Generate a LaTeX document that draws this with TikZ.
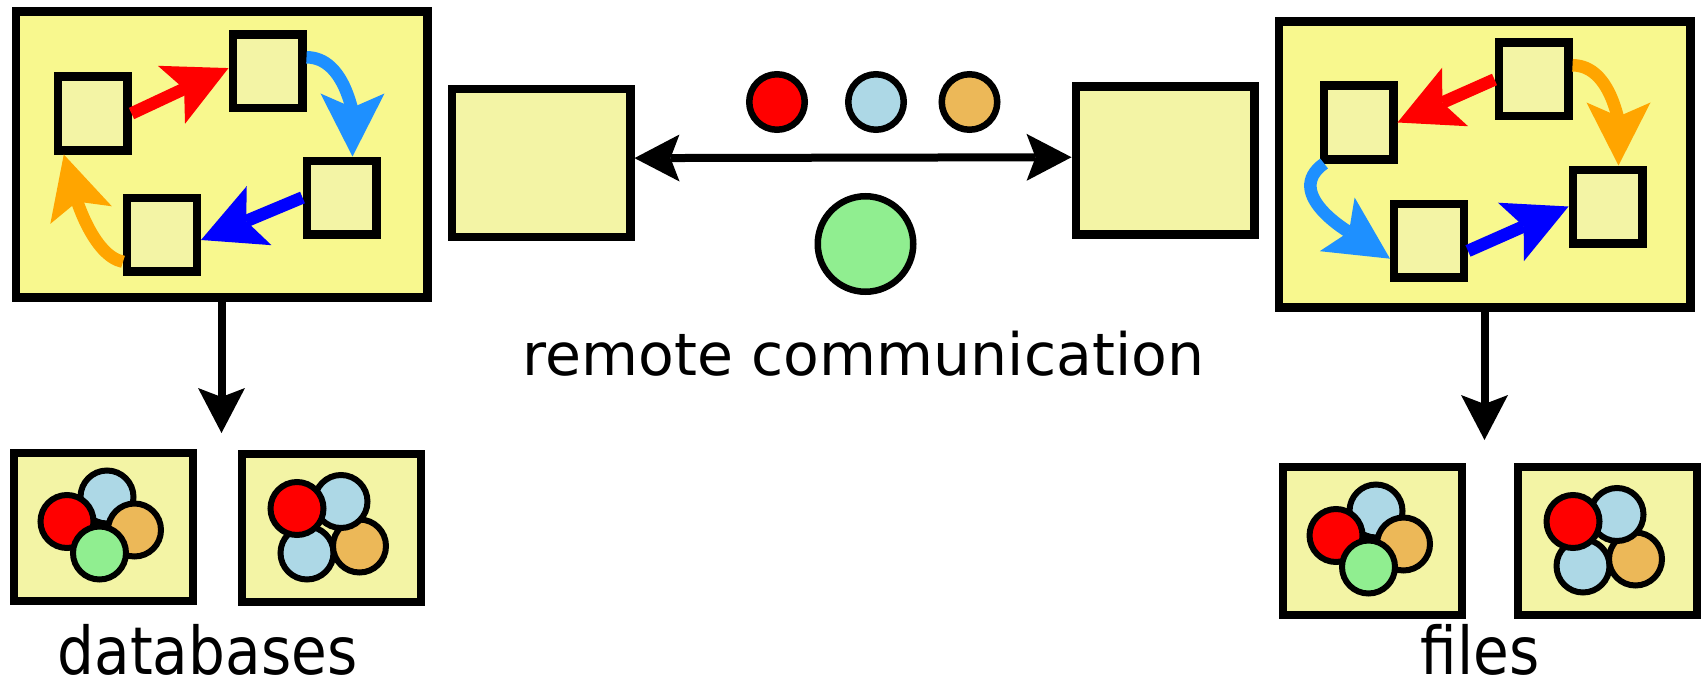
\documentclass[tikz,border=0pt]{standalone}
\usepackage{fontspec}
\setmainfont{DejaVu Sans}
\usetikzlibrary{positioning,arrows.meta,calc}

\definecolor{hostfill}{RGB}{248,248,142}
\definecolor{boxfill}{RGB}{243,244,165}
\definecolor{dotblue}{RGB}{173,216,230}
\definecolor{dotorange}{RGB}{236,184,88}
\definecolor{dotgreen}{RGB}{144,238,144}
\definecolor{arrsky}{RGB}{30,144,255}
\definecolor{arrorange}{RGB}{255,165,0}

% stored objects, drawn around the centre of a store box
\newcommand{\mixfour}[1]{%
  \filldraw[blob,fill=dotblue]   ($(#1)+(3.5,-30)$)    circle[radius=26.5];
  \filldraw[blob,fill=red]       ($(#1)+(-36.5,-5.5)$) circle[radius=26.5];
  \filldraw[blob,fill=dotorange] ($(#1)+(31,3)$)       circle[radius=26.5];
  \filldraw[blob,fill=dotgreen]  ($(#1)+(-4,26)$)      circle[radius=26.5];}
\newcommand{\mixtwo}[1]{%
  \filldraw[blob,fill=dotblue]   ($(#1)+(-24.5,25)$)    circle[radius=26.5];
  \filldraw[blob,fill=dotorange] ($(#1)+(28,18)$)       circle[radius=26.5];
  \filldraw[blob,fill=dotblue]   ($(#1)+(9.5,-26.5)$)   circle[radius=26.5];
  \filldraw[blob,fill=red]       ($(#1)+(-34.5,-19.5)$) circle[radius=26.5];}

\begin{document}
\begin{tikzpicture}[x=1pt,y=-1pt,
  host/.style={draw,line width=8.3pt,fill=hostfill,minimum width=411.7pt,minimum height=285.7pt,inner sep=0pt},
  obj/.style={draw,line width=8.3pt,fill=boxfill,minimum width=69.7pt,minimum height=73.7pt,inner sep=0pt},
  panel/.style={draw,line width=8.3pt,fill=boxfill,minimum width=178.7pt,minimum height=147.7pt,inner sep=0pt},
  msg/.style={circle,draw,line width=6.5pt,minimum size=55.5pt,inner sep=0pt},
  blob/.style={line width=6pt},
  flow/.style={line width=12.5pt,-{Stealth[length=63pt,width=64pt,inset=14pt,line width=0pt]}},
  link/.style={line width=8pt},
  lbl/.style={anchor=base,inner sep=0pt,font=\fontsize{66}{80}\selectfont},
  >={Stealth[length=45pt,width=47pt,inset=9pt,line width=0pt]}]
\useasboundingbox (0,0) rectangle (1704,690);

% left program: four objects calling round
\node[host] (progL) at (221.5,154.5) {};
\node[obj] (a1) at (92.5,113.5) {};
\node[obj] (a2) at (267.5,71.5) {};
\node[obj] (a3) at (341.5,197.5) {};
\node[obj] (a4) at (162,234.5) {};
\draw[flow,red] (a1.east) -- (a2.175);
\draw[flow,arrsky] (a2.20) .. controls +(40,0) and +(0,-36) .. (a3.75);
\draw[flow,blue] (a3.west) -- (a4.-8);
\draw[flow,arrorange] (a4.215) .. controls +(-30,-6) and +(12,42) .. (a1.235);

% right program
\node[host] (progR) at (1484.5,164.5) {};
\node[obj] (b1) at (1533.5,79.5) {};
\node[obj] (b2) at (1358.5,122.5) {};
\node[obj] (b3) at (1607.5,206.5) {};
\node[obj] (b4) at (1429,240.5) {};
\draw[flow,red] (b1.west) -- (b2.east);
\draw[flow,arrorange] (b1.20) .. controls +(40,0) and +(0,-36) .. (b3.75);
\draw[flow,arrsky] (b2.230) .. controls +(-42,30) and +(-40,-26) .. (b4.205);
\draw[flow,blue] (b4.-15) -- (b3.west);

% the two ends of the remote link and what travels over it
\node[panel] (stubL) at (541,163) {};
\node[panel] (stubR) at (1165,160.5) {};
\draw[link,<->] (stubL.3) -- (stubR.178);
\node[msg,fill=red] (mRed) at (777,102) {};
\node[msg,fill=dotblue] (mBlue) at (876,102) {};
\node[msg,fill=dotorange] (mOrange) at (969.5,102) {};
\node[msg,fill=dotgreen,minimum size=95.5pt] (mGreen) at (865.5,244) {};
\node[anchor=base,font=\fontsize{58.5}{70}\selectfont] (remote) at (863.5,375) {remote communication};

% persistent stores
\node[panel] (dbA) at (103.5,527) {};
\node[panel] (dbB) at (331.5,528) {};
\node[panel] (fileA) at (1372.5,541) {};
\node[panel] (fileB) at (1607.5,541) {};
\mixfour{dbA}
\mixtwo{dbB}
\mixfour{fileA}
\mixtwo{fileB}

\coordinate (dbIn) at (221.5,433);
\coordinate (fileIn) at (1484.5,440);
\draw[link,->] (progL.south) -- (dbIn);
\draw[link,->] (progR.south) -- (fileIn);

\node[lbl] (dbLbl) at (207.5,674) {\scalebox{0.88}[1]{databases}};
\node[lbl] (fileLbl) at (1480,674) {\scalebox{0.88}[1]{files}};
\end{tikzpicture}
\end{document}
